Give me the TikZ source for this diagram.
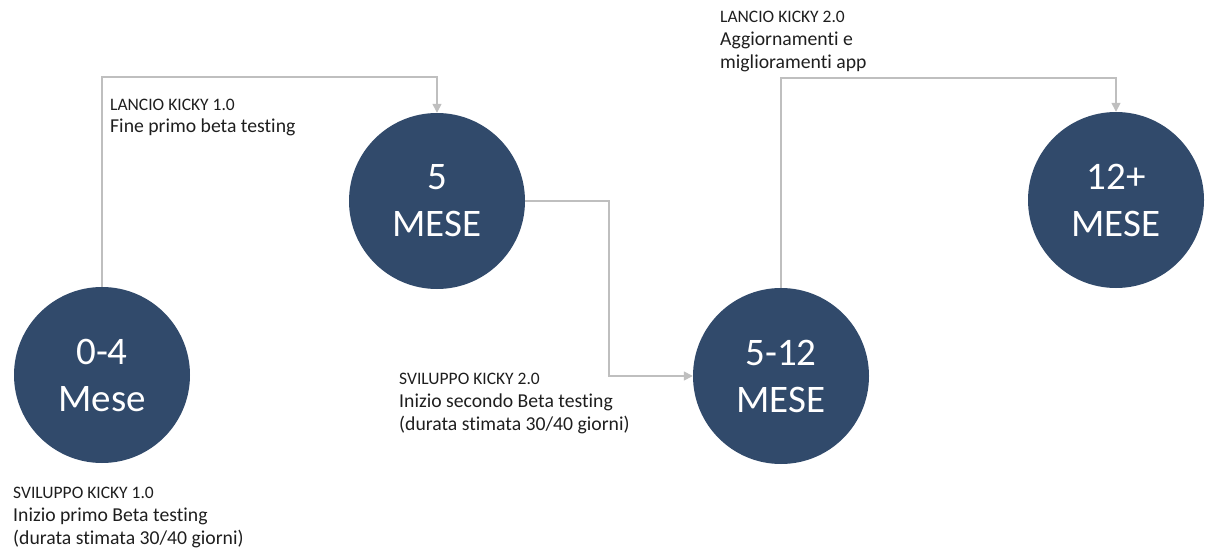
\documentclass[tikz,border=0pt]{standalone}
\usepackage{fontspec}
\setmainfont{Carlito}[RawFeature={-liga;-clig;-calt;-dlig}]
\usetikzlibrary{arrows.meta}
\definecolor{phase}{RGB}{49,74,107}
\definecolor{link}{RGB}{191,191,191}
\definecolor{ink}{RGB}{30,30,30}
\tikzset{
  phasecircle/.style={circle, fill=phase, minimum size=176pt, inner sep=0pt,
    text=white, align=center, font=\fontsize{39}{47}\selectfont},
  linkline/.style={draw=link, line width=1.4pt, -{Triangle[width=9pt,length=9pt]}},
  note/.style={anchor=base west, inner sep=0pt, text=ink,
    font=\fontsize{19.7}{23}\selectfont}
}
\newcommand{\notehead}[1]{{\fontsize{17.5}{23}\selectfont #1}}
\newcommand{\notelines}[1]{\begin{tabular}[t]{@{}l@{}}#1\end{tabular}}
\begin{document}
\begin{tikzpicture}[x=1pt,y=-1pt]
\useasboundingbox (0,0) rectangle (1207,551);

% phases
\node[phasecircle] (p0)  at (102,375)  {0-4\\Mese};
\node[phasecircle] (p5)  at (437,201)  {5\\MESE};
\node[phasecircle] (p12) at (781,376)  {5-12\\MESE};
\node[phasecircle] (pe)  at (1116,200) {12+\\MESE};

% connectors
\draw[linkline] (p0.north) -- ++(0,-210) -| (p5.north);
\draw[linkline] (p5.east) -- (609,201) |- (p12.west);
\draw[linkline] (p12.north) |- (1116,78) -- (pe.north);

% notes
\node[note] (n1) at (110,110) {\notelines{\notehead{LANCIO KICKY 1.0}\\Fine primo beta testing}};
\node[note] (n2) at (720,23) {\notelines{\notehead{LANCIO KICKY 2.0}\\Aggiornamenti e\\miglioramenti app}};
\node[note] (n3) at (399,384) {\notelines{\notehead{SVILUPPO KICKY 2.0}\\Inizio secondo Beta testing\\(durata stimata 30/40 giorni)}};
\node[note] (n4) at (13,498) {\notelines{\notehead{SVILUPPO KICKY 1.0}\\Inizio primo Beta testing\\(durata stimata 30/40 giorni)}};
\end{tikzpicture}
\end{document}
